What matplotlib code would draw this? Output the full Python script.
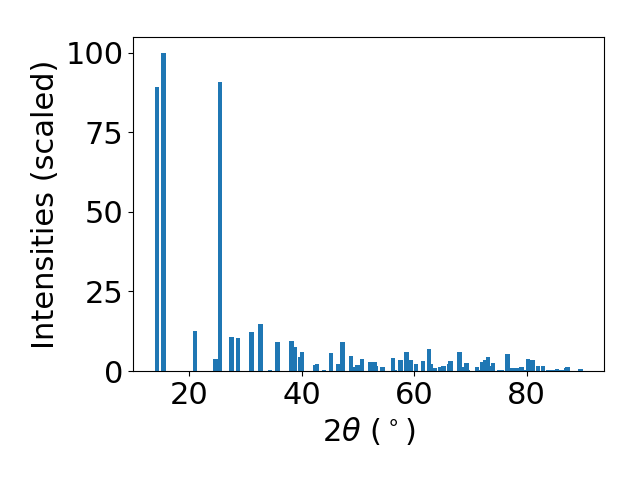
import matplotlib
matplotlib.use("Agg")
import matplotlib.pyplot as plt

two_theta = [14.19, 15.36, 21.0, 24.6, 25.4, 27.48, 28.64, 31.06, 32.64, 34.3, 35.7,
             38.13, 38.7, 39.7, 40.03, 42.37, 42.66, 43.95, 45.2, 46.46, 47.27,
             48.8, 49.55, 49.9, 50.67, 52.2, 52.9, 53.2, 54.4, 56.2, 56.6, 57.56,
             58.6, 59.36, 60.3, 61.6, 62.6, 62.9, 63.6, 64.6, 65.2, 66.2, 66.5,
             68.1, 68.9, 69.3, 69.5, 71.2, 71.6, 72.2, 72.7, 73.15, 73.6, 74.05,
             75.1, 75.6, 76.6, 77.5, 78.3, 79.06, 79.8, 80.3, 81.1, 82.0, 82.9,
             83.8, 84.6, 85.4, 86.2, 87.0, 87.3, 89.6]
intensity = [89.4, 100.0, 12.55, 3.76, 91.0, 10.7, 10.4, 12.2, 14.7, 0.3, 9.1,
             9.4, 7.5, 4.4, 6.0, 1.9, 2.2, 0.3, 5.65, 2.2, 9.1,
             4.7, 1.26, 1.9, 3.8, 2.8, 2.8, 1.6, 1.26, 4.1, 0.3, 3.5,
             6.0, 3.5, 2.2, 3.1, 6.9, 2.2, 0.94, 1.26, 1.57, 2.2, 3.1,
             6.0, 1.26, 2.5, 0.3, 1.26, 0.3, 2.8, 3.5, 4.4, 1.6, 2.5,
             0.3, 0.3, 5.3, 1.0, 1.0, 1.26, 0.3, 3.8, 3.5, 1.6, 1.6,
             0.3, 0.3, 0.6, 0.3, 0.9, 1.26, 0.6]

fig = plt.figure(figsize=(6.4, 4.8), dpi=100)
ax = fig.add_axes([0.208, 0.227, 0.736, 0.696])
ax.bar(two_theta, intensity)
ax.set_xlabel(r"2$\theta$ ($^\circ$)", fontsize=22)
ax.set_ylabel("Intensities (scaled)", fontsize=22)
ax.tick_params(labelsize=22)
ax.set_yticks([0, 25, 50, 75, 100])
ax.set_xticks([20, 40, 60, 80])
fig.savefig("out.png", dpi=100)
